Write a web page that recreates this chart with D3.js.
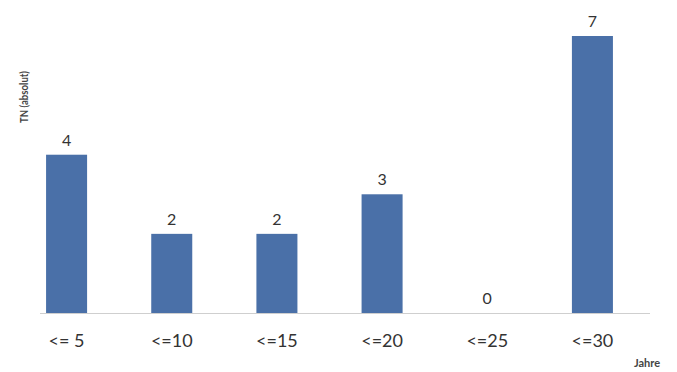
<!DOCTYPE html>
<html>
<head>
<meta charset="utf-8">
<script src="https://cdn.jsdelivr.net/npm/d3@7"></script>
<style>
  html, body { margin: 0; padding: 0; background: #ffffff; }
  svg { display: block; }
  text { font-family: Lato, "Open Sans", sans-serif; }
</style>
</head>
<body>
<svg id="chart" width="677" height="372"></svg>
<script>
// Teilnehmer nach Jahren
const categories = ["<= 5", "<=10", "<=15", "<=20", "<=25", "<=30"];
const values = [4, 2, 2, 3, 0, 7];
const yTitle = "TN (absolut)";
const xTitle = "Jahre";

const svg = d3.select("#chart");

const x = d3.scaleBand()
  .domain(categories)
  .range([14, 645])
  .paddingInner(0.61)
  .paddingOuter(0.305);

const y = d3.scaleLinear()
  .domain([0, 7])
  .range([313, 36]);

// Baseline
svg.append("line")
  .attr("x1", 40).attr("x2", 650)
  .attr("y1", y(0) + 0.5).attr("y2", y(0) + 0.5)
  .attr("stroke", "#cfcfcf")
  .attr("stroke-width", 1);

// Bars
svg.selectAll("rect.bar")
  .data(values)
  .join("rect")
  .attr("class", "bar")
  .attr("x", (d, i) => x(categories[i]))
  .attr("width", x.bandwidth())
  .attr("y", d => y(d))
  .attr("height", d => y(0) - y(d))
  .attr("fill", "#4a70a8");

// Value labels
svg.selectAll("text.val")
  .data(values)
  .join("text")
  .attr("class", "val")
  .attr("x", (d, i) => x(categories[i]) + x.bandwidth() / 2)
  .attr("y", d => y(d) - 9)
  .attr("text-anchor", "middle")
  .attr("font-size", 16)
  .attr("fill", "#333333")
  .text(d => d);

// Category axis
const xAxis = svg.append("g")
  .attr("transform", `translate(0,${y(0)})`)
  .call(d3.axisBottom(x).tickSize(0).tickPadding(21));
xAxis.select(".domain").remove();
xAxis.selectAll("text")
  .attr("font-family", "Lato, 'Open Sans', sans-serif")
  .attr("font-size", 18)
  .attr("fill", "#333333");

// Axis titles
svg.append("text")
  .attr("transform", "translate(28,97) rotate(-90)")
  .attr("text-anchor", "middle")
  .attr("font-size", 12)
  .attr("font-weight", "bold")
  .attr("fill", "#444444")
  .attr("textLength", 52)
  .attr("lengthAdjust", "spacingAndGlyphs")
  .text(yTitle);

svg.append("text")
  .attr("x", 647)
  .attr("y", 367)
  .attr("text-anchor", "middle")
  .attr("font-size", 11)
  .attr("font-weight", "bold")
  .attr("fill", "#444444")
  .text(xTitle);
</script>
</body>
</html>
